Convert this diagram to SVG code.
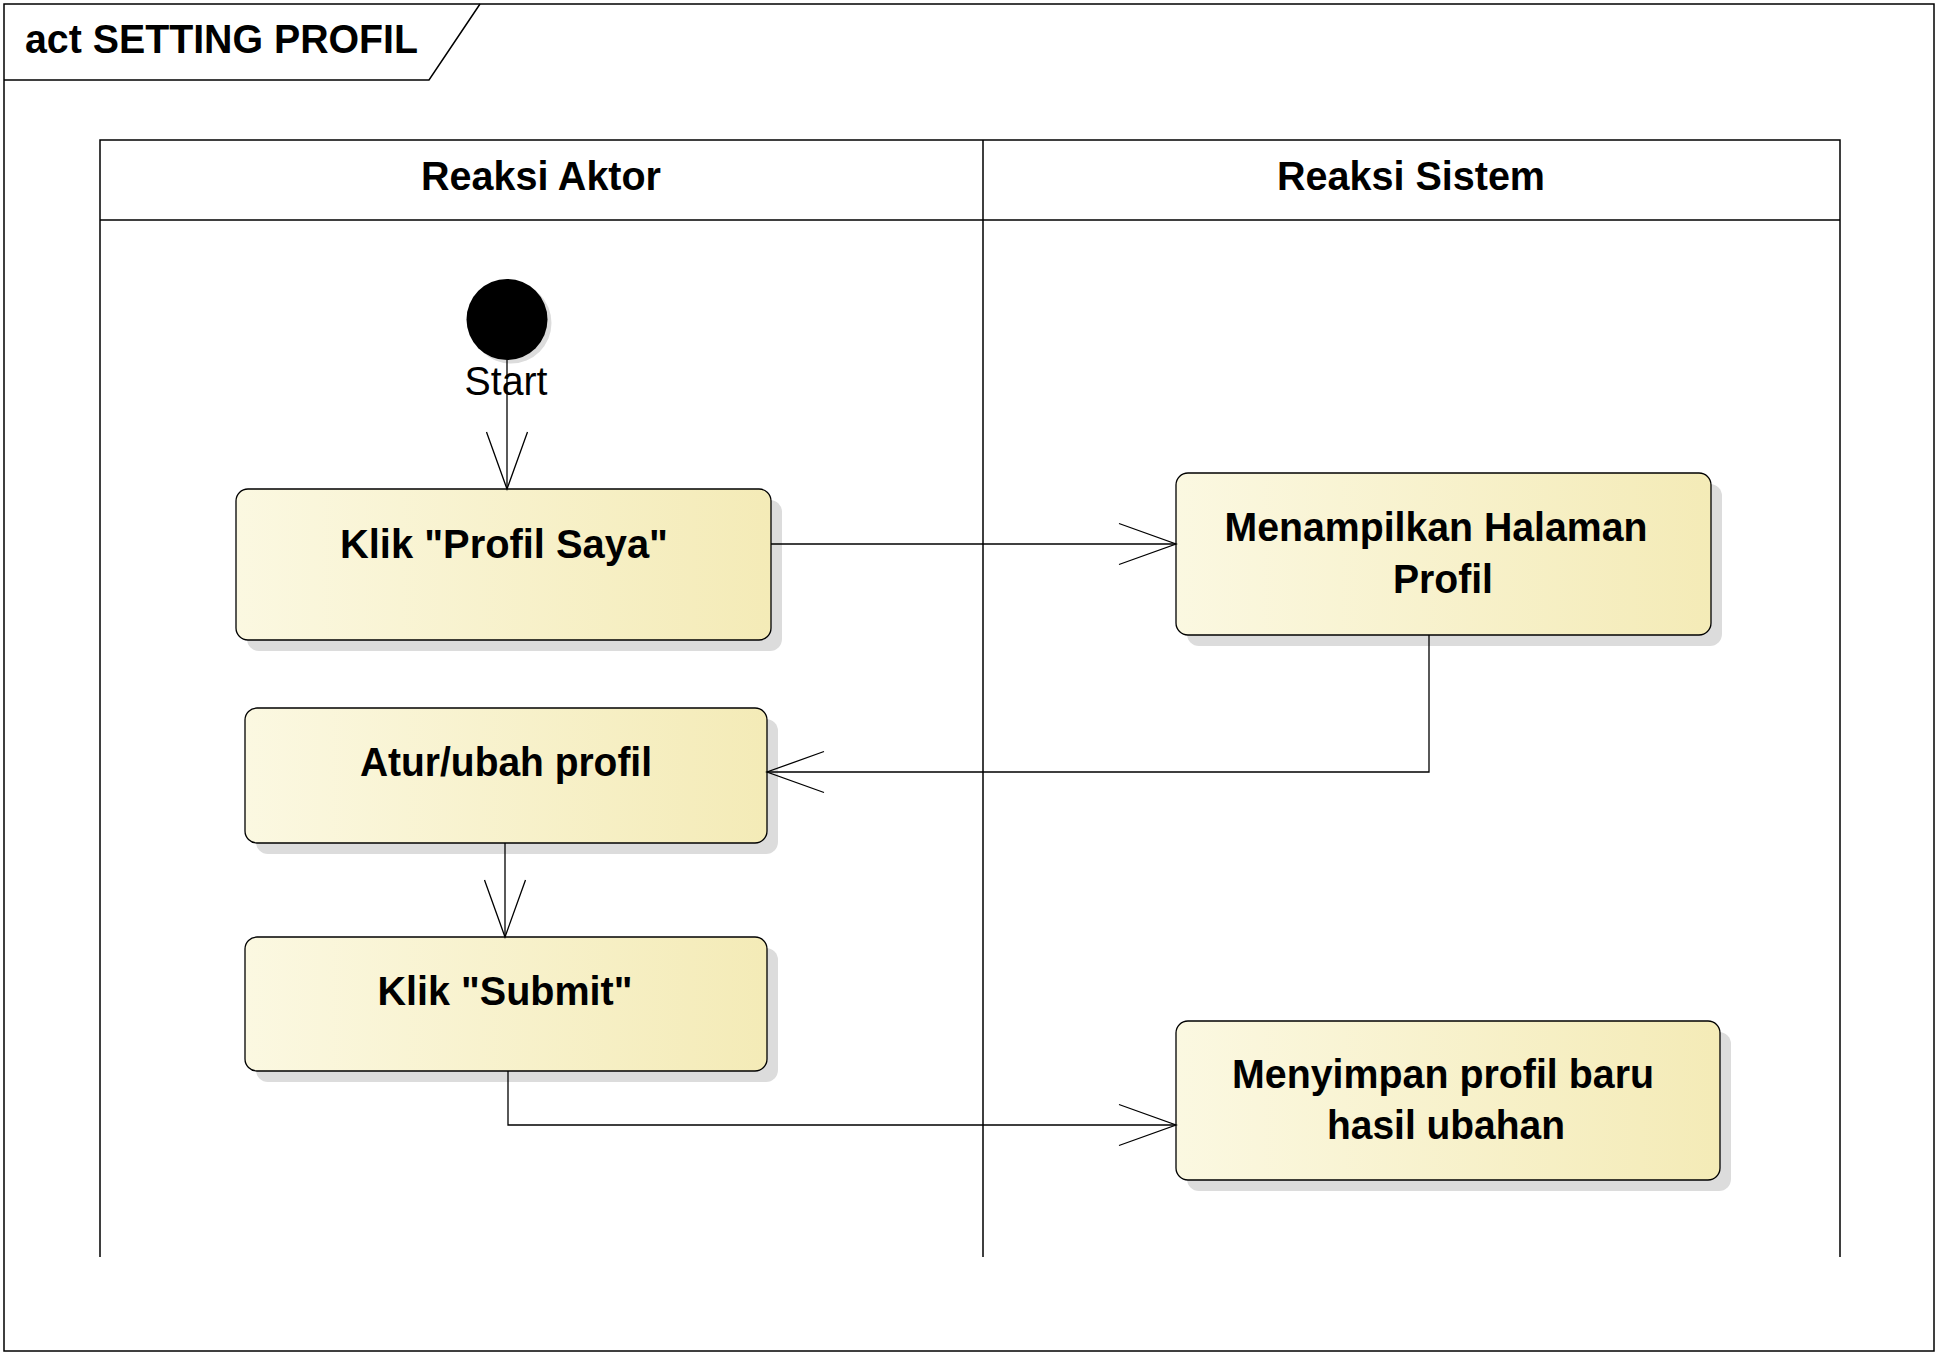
<svg xmlns="http://www.w3.org/2000/svg" width="1940" height="1356" viewBox="0 0 1940 1356">
<style>
.line{fill:none;stroke:#000;stroke-width:1.3}
.frame{fill:none;stroke:#000;stroke-width:1.5}
.box{stroke:#000;stroke-width:1.3;fill:url(#g)}
.shadow{fill:#DCDCDC;stroke:none}
.t{font-family:"Liberation Sans",Arial,sans-serif;font-size:40px;font-weight:bold;fill:#000;text-anchor:middle}
.title{font-family:"Liberation Sans",Arial,sans-serif;font-size:40px;font-weight:bold;fill:#000}
.lbl{font-family:"Liberation Sans",Arial,sans-serif;font-size:40px;fill:#000;text-anchor:middle}
</style>
<defs>
<linearGradient id="g" x1="0" y1="0" x2="1" y2="0">
<stop offset="0" stop-color="#FBF8E1"/>
<stop offset="1" stop-color="#F4EBB7"/>
</linearGradient>
<marker id="arr" markerUnits="userSpaceOnUse" viewBox="0 0 60 44" markerWidth="60" markerHeight="44" refX="58" refY="22" orient="auto">
<path d="M1,1.5 L58,22 L1,42.5" fill="none" stroke="#000" stroke-width="1.3"/>
</marker>
</defs>
<rect width="1940" height="1356" fill="#fff"/>
<g id="frame">
<rect class="frame" x="4" y="4" width="1930" height="1347"/>
<path class="frame" d="M4,80 H429 L480,4"/>
<text class="title" x="25" y="53" textLength="393" lengthAdjust="spacingAndGlyphs">act SETTING PROFIL</text>
</g>
<g id="lanes">
<path class="frame" d="M100,1257 V140 H1840 V1257 M100,220 H1840 M983,140 V1257"/>
<text class="t" x="541" y="190" textLength="240" lengthAdjust="spacingAndGlyphs">Reaksi Aktor</text>
<text class="t" x="1411" y="190" textLength="268" lengthAdjust="spacingAndGlyphs">Reaksi Sistem</text>
</g>
<g id="start">
<circle cx="511" cy="323" r="40.5" fill="#DCDCDC"/>
<circle cx="507" cy="319.5" r="40.5" fill="#000"/>
<text class="lbl" x="506" y="395" textLength="83" lengthAdjust="spacingAndGlyphs">Start</text>
</g>
<g id="klik-profil">
<rect class="shadow" x="247" y="500" width="535" height="151" rx="12"/>
<rect class="box" x="236" y="489" width="535" height="151" rx="12"/>
<text class="t" x="504" y="558" textLength="328" lengthAdjust="spacingAndGlyphs">Klik "Profil Saya"</text>
</g>
<g id="menampilkan">
<rect class="shadow" x="1187" y="484" width="535" height="162" rx="12"/>
<rect class="box" x="1176" y="473" width="535" height="162" rx="12"/>
<text class="t" x="1436" y="541" textLength="423" lengthAdjust="spacingAndGlyphs">Menampilkan Halaman</text>
<text class="t" x="1443" y="593" textLength="100" lengthAdjust="spacingAndGlyphs">Profil</text>
</g>
<g id="atur">
<rect class="shadow" x="256" y="719" width="522" height="135" rx="12"/>
<rect class="box" x="245" y="708" width="522" height="135" rx="12"/>
<text class="t" x="506" y="776" textLength="292" lengthAdjust="spacingAndGlyphs">Atur/ubah profil</text>
</g>
<g id="submit">
<rect class="shadow" x="256" y="948" width="522" height="134" rx="12"/>
<rect class="box" x="245" y="937" width="522" height="134" rx="12"/>
<text class="t" x="505" y="1005" textLength="255" lengthAdjust="spacingAndGlyphs">Klik "Submit"</text>
</g>
<g id="menyimpan">
<rect class="shadow" x="1187" y="1032" width="544" height="159" rx="12"/>
<rect class="box" x="1176" y="1021" width="544" height="159" rx="12"/>
<text class="t" x="1443" y="1088" textLength="422" lengthAdjust="spacingAndGlyphs">Menyimpan profil baru</text>
<text class="t" x="1446" y="1139" textLength="238" lengthAdjust="spacingAndGlyphs">hasil ubahan</text>
</g>
<g id="connectors">
<path class="line" d="M507,360 V489" marker-end="url(#arr)"/>
<path class="line" d="M771,544 H1176" marker-end="url(#arr)"/>
<path class="line" d="M1429,635 V772 H767" marker-end="url(#arr)"/>
<path class="line" d="M505,843 V937" marker-end="url(#arr)"/>
<path class="line" d="M508,1071 V1125 H1176" marker-end="url(#arr)"/>
</g>
</svg>
